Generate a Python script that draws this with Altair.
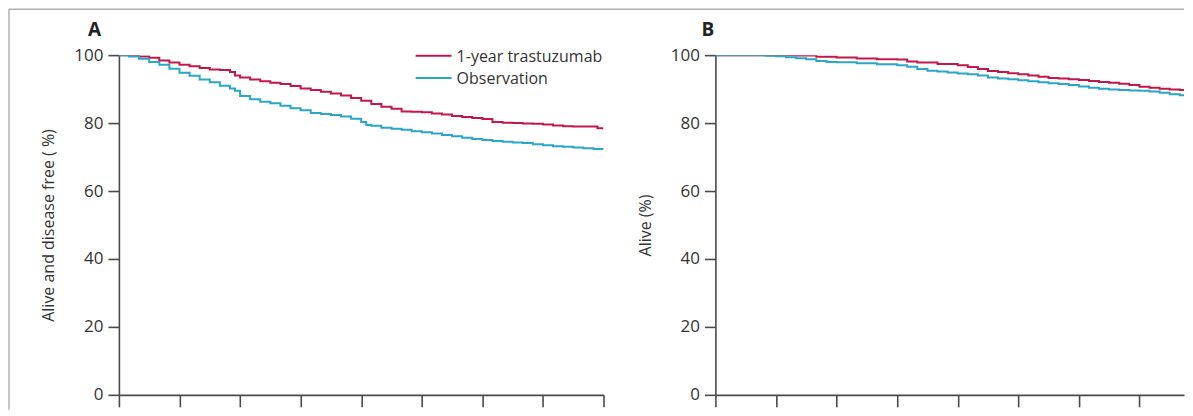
import altair as alt
import pandas as pd

# ---- data (months, % ) ----
series_names = ["1-year trastuzumab", "Observation"]
series_colors = ["#c3174c", "#2aa6c9"]
legend_rows = [0, 1]
panel_labels = ["A", "B"]
y_titles = ["Alive and disease free ( %)", "Alive (%)"]

a_trast_months = [0, 1, 2, 3, 4, 5, 6, 7, 8, 9, 10, 11, 11.5, 12, 13, 14, 15, 16, 17, 18, 19, 20, 21, 22, 23, 24,
                  25, 26, 27, 28, 29, 30, 31, 32, 33, 34, 35, 36, 37, 38, 39, 40, 41, 42, 43, 44, 45, 46, 47, 47.4, 48]
a_trast_vals = [100, 100, 99.6, 99.2, 98.4, 97.8, 97.2, 96.7, 96.2, 95.8, 95.6, 95.0, 94.0, 93.4, 92.8, 92.3, 91.9,
                91.5, 90.9, 90.2, 89.7, 89.2, 88.7, 88.1, 87.4, 86.6, 85.6, 84.8, 84.2, 83.4, 83.3, 83.2, 82.8, 82.5,
                82.1, 81.8, 81.5, 81.2, 80.3, 80.1, 80.0, 79.9, 79.8, 79.6, 79.3, 79.1, 79.0, 79.0, 79.0, 78.5, 78.5]

a_obs_months = [0, 1, 2, 3, 4, 5, 6, 7, 8, 9, 10, 11, 11.5, 12, 13, 14, 15, 16, 17, 18, 19, 20, 21, 22, 23, 24, 24.5,
                25, 26, 27, 28, 29, 30, 31, 32, 33, 34, 35, 36, 37, 38, 39, 40, 41, 42, 43, 44, 45, 46, 47, 48]
a_obs_vals = [100, 99.6, 98.9, 98.0, 97.2, 96.0, 94.8, 93.9, 92.8, 92.0, 91.0, 90.2, 89.5, 88.0, 87.0, 86.3, 85.8,
              85.1, 84.4, 83.8, 83.0, 82.7, 82.4, 81.9, 81.3, 80.3, 79.4, 79.2, 78.6, 78.3, 78.0, 77.6, 77.3, 76.9,
              76.5, 76.1, 75.7, 75.3, 75.0, 74.7, 74.5, 74.3, 74.1, 73.8, 73.5, 73.2, 73.0, 72.8, 72.6, 72.4, 72.2]

b_trast_months = [0, 4, 8, 10, 12, 14, 16, 18, 19, 20, 22, 24, 25, 26, 27, 28, 29, 30, 31, 32, 33, 34, 35, 36, 37,
                  38, 39, 40, 41, 42, 43, 44, 45, 46, 47, 48]
b_trast_vals = [100, 100, 99.9, 99.5, 99.3, 99.0, 98.8, 98.7, 98.1, 97.8, 97.4, 97.0, 96.5, 95.9, 95.3, 95.0, 94.7,
                94.4, 94.0, 93.6, 93.3, 93.1, 92.9, 92.7, 92.4, 92.1, 91.9, 91.6, 91.2, 90.7, 90.4, 90.1, 89.9, 89.7,
                89.6, 89.5]

b_obs_months = [0, 4, 5, 6, 7, 8, 9, 10, 11, 12, 14, 16, 18, 19, 20, 21, 22, 23, 24, 25, 26, 27, 28, 29, 30, 31, 32,
                33, 34, 35, 36, 37, 38, 39, 40, 41, 42, 43, 44, 45, 46, 47, 48]
b_obs_vals = [100, 100, 99.8, 99.7, 99.4, 99.1, 98.8, 98.3, 98.0, 97.9, 97.6, 97.3, 97.0, 96.6, 95.9, 95.4, 95.2,
              94.9, 94.6, 94.4, 94.0, 93.4, 93.1, 92.9, 92.6, 92.3, 92.0, 91.7, 91.5, 91.2, 90.8, 90.4, 90.1, 89.9,
              89.7, 89.6, 89.5, 89.3, 88.9, 88.5, 88.2, 88.0, 87.8]

y_ticks = [0, 20, 40, 60, 80, 100]
x_ticks_a = [0, 6, 12, 18, 24, 30, 36, 42, 48]
x_ticks_b = [0, 6, 12, 18, 24, 30, 36, 42]


def frame(months, vals, name):
    return pd.DataFrame({"month": months, "pct": vals, "group": name})


df_a = pd.concat([frame(a_trast_months, a_trast_vals, series_names[0]),
                  frame(a_obs_months, a_obs_vals, series_names[1])])
df_b = pd.concat([frame(b_trast_months, b_trast_vals, series_names[0]),
                  frame(b_obs_months, b_obs_vals, series_names[1])])
df_leg = pd.DataFrame({"group": series_names, "row": legend_rows})

FONT = "Open Sans"
PX_PER_MONTH = 485 / 48
W_A = 485
W_B = 469
GAP = 112
H = 340

color_scale = alt.Scale(domain=series_names, range=series_colors)


def y_axis(title):
    return alt.Axis(values=y_ticks, title=title, tickSize=11, labelPadding=5, titlePadding=17,
                    labelFontSize=17, titleFontSize=16, grid=False)


def panel(df, label, ytitle, xmax, xticks, dx):
    x = alt.X("month:Q", scale=alt.Scale(domain=[0, xmax], nice=False),
              axis=alt.Axis(values=xticks, labels=False, title=None, tickSize=12, grid=False))
    y = alt.Y("pct:Q", scale=alt.Scale(domain=[0, 100], nice=False), axis=y_axis(ytitle))
    lines = alt.Chart(df).mark_line(interpolate="step-after", strokeWidth=2, clip=True).encode(
        x=x, y=y,
        color=alt.Color("group:N", scale=color_scale, legend=None, sort=series_names),
    )
    tag = alt.Chart(pd.DataFrame({"label": [label]})).mark_text(
        align="left", baseline="alphabetic", fontSize=19, fontWeight="bold", font=FONT, color="#222"
    ).encode(text="label:N", x=alt.value(dx), y=alt.value(-19))
    return lines, tag


# manual legend (rows placed through their own small scale)
leg_y = alt.Y("row:Q", scale=alt.Scale(domain=[0, 1], range=[0.5, 23]), axis=None)
leg_rules = alt.Chart(df_leg).mark_rule(strokeWidth=2, clip=False).encode(
    x=alt.value(297), x2=alt.value(333), y=leg_y,
    color=alt.Color("group:N", scale=color_scale, legend=None),
)
leg_text = alt.Chart(df_leg).mark_text(align="left", baseline="middle", fontSize=16, font=FONT,
                                       color="#333", clip=False, dy=1).encode(
    x=alt.value(338), y=leg_y, text="group:N",
)

one = pd.DataFrame({"k": [0]})
frame_top = alt.Chart(one).mark_rule(color="#8a8a8a", strokeWidth=1, clip=False).encode(
    x=alt.value(-110), x2=alt.value(W_A + GAP + W_B), y=alt.value(-46))
frame_left = alt.Chart(one).mark_rule(color="#8a8a8a", strokeWidth=1, clip=False).encode(
    x=alt.value(-110), y=alt.value(-46), y2=alt.value(355))

lines_a, tag_a = panel(df_a, panel_labels[0], y_titles[0], 48, x_ticks_a, -31)
lines_b, tag_b = panel(df_b, panel_labels[1], y_titles[1], W_B / PX_PER_MONTH, x_ticks_b, -14)

legend_layer = alt.layer(leg_rules, leg_text)
pa = alt.layer(frame_top, frame_left, lines_a, tag_a, legend_layer).resolve_scale(
    y="independent").properties(width=W_A, height=H)
pb = alt.layer(lines_b, tag_b).properties(width=W_B, height=H)

chart = alt.hconcat(pa, pb, spacing=GAP, bounds="flush").resolve_scale(color="independent").configure(
    background="white", padding=0, autosize=alt.AutoSizeParams(type="pad"),
).configure_view(stroke=None).configure_axis(
    domainColor="#4a4a4a", tickColor="#4a4a4a", domainWidth=1.6, tickWidth=1.6,
    labelColor="#333", titleColor="#333", labelFont=FONT, titleFont=FONT, titleFontWeight="normal",
)

chart.save("out.html", embed_options={"renderer": "svg", "actions": False})
